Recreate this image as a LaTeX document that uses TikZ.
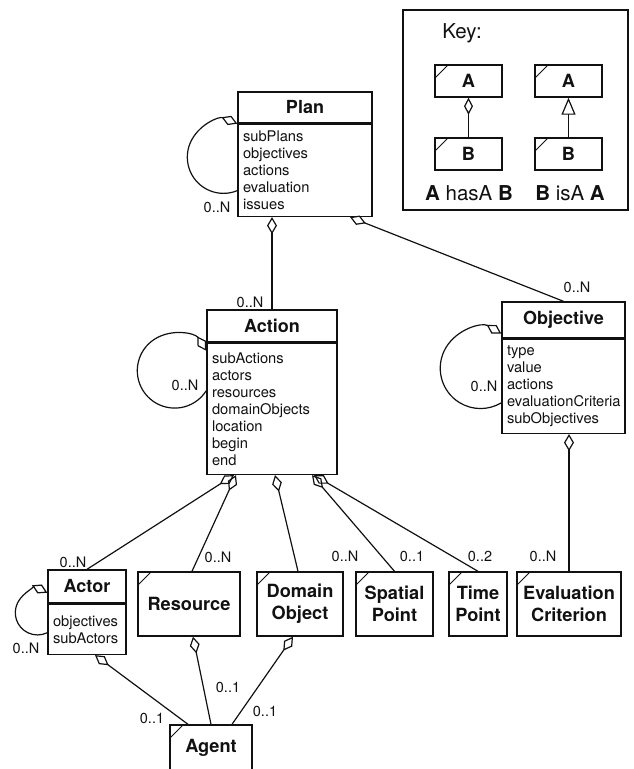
\documentclass[tikz,border=0pt]{standalone}
\usepackage{fontspec}
\setmainfont{TeX Gyre Heros}
\usepackage{xcolor}
\usetikzlibrary{arrows.meta,positioning}
\definecolor{tinta}{HTML}{111111}

\begin{document}
\begin{tikzpicture}[x=1pt, y=-1pt, color=tinta,
    caja/.style={draw, line width=1.4pt, inner sep=0pt},
    cabecera/.style={caja, font=\fontsize{18}{20}\selectfont\bfseries},
    cuerpo/.style={caja, font=\fontsize{14.7}{17}\selectfont, align=left, inner xsep=5pt},
    clase/.style={caja, align=center, font=\fontsize{18.2}{22}\selectfont\bfseries, minimum height=64pt,
        path picture={\draw[line width=1pt] ([yshift=-13pt]path picture bounding box.north west) -- ([xshift=13pt]path picture bounding box.north west);}},
    mult/.style={font=\fontsize{14.5}{16}\selectfont, inner sep=0pt},
    hasa/.style={line width=1.2pt, arrows={Diamond[open,length=17pt,width=10pt]-}},
    isa/.style={line width=1.2pt, arrows={Triangle[open,length=17pt,width=14pt]-}}]
        \useasboundingbox (0,0) rectangle (633,769);
        % Leyenda
        \node[caja, minimum width=225pt, minimum height=200pt] (leyenda) at (515.5,110) {};
        \node[font=\fontsize{20.5}{24}\selectfont] (tituloLeyenda) at (462,33) {Key:};
        \node[clase, minimum width=67pt, minimum height=32pt] (claveA) at (468.5,81) {A};
        \node[clase, minimum width=67pt, minimum height=32pt] (claveB) at (468.5,154) {B};
        \node[clase, minimum width=67pt, minimum height=32pt] (claveA2) at (568.5,81) {A};
        \node[clase, minimum width=67pt, minimum height=32pt] (claveB2) at (568.5,154) {B};
        \draw[hasa, arrows={Diamond[open,length=17pt,width=9pt]-}] (claveA) -- (claveB);
        \draw[isa] (claveA2) -- (claveB2);
        \node[font=\fontsize{20.5}{24}\selectfont] (textoHasA) at (469,193) {\textbf{A} hasA \textbf{B}};
        \node[font=\fontsize{20.5}{24}\selectfont] (textoIsA) at (570,193) {\textbf{B} isA \textbf{A}};
        % Clases con atributos
        \node[cabecera, minimum width=134pt, minimum height=31pt] (plan) at (305,107.5) {Plan};
        \node[cuerpo, below=0pt of plan, text width=124pt, minimum height=92pt] (planAtr)
            {subPlans\\objectives\\actions\\evaluation\\issues};
        \node[cabecera, minimum width=130pt, minimum height=32pt] (accion) at (272,326) {Action};
        \node[cuerpo, below=0pt of accion, text width=120pt, minimum height=131pt] (accionAtr)
            {subActions\\actors\\resources\\domainObjects\\location\\begin\\end};
        \node[cabecera, minimum width=123pt, minimum height=36pt] (objetivo) at (563.5,320) {Objective};
        \node[cuerpo, below=0pt of objetivo, text width=113pt, minimum height=94pt] (objetivoAtr)
            {type\\value\\actions\\evaluationCriteria\\subObjectives};
        \node[cabecera, minimum width=78pt, minimum height=33pt] (actor) at (87,586.5) {Actor};
        \node[cuerpo, below=0pt of actor, text width=68pt, minimum height=50pt] (actorAtr)
            {objectives\\subActors};
        % Clases simples
        \node[clase, minimum width=102pt] (recurso) at (189,604) {Resource};
        \node[clase, minimum width=86pt] (dominio) at (300,604) {Domain\\Object};
        \node[clase, minimum width=77pt] (espacial) at (394.5,604) {Spatial\\Point};
        \node[clase, minimum width=58pt] (tiempo) at (478,604) {Time\\Point};
        \node[clase, minimum width=104pt] (evaluacion) at (569,604) {Evaluation\\Criterion};
        \node[clase, minimum width=82pt, minimum height=46pt] (agente) at (211,748) {Agent};
        % Relaciones hasA
        \draw[hasa] (accion |- planAtr.south) -- (accion);
        \draw[hasa] ([xshift=45pt]planAtr.south) -- (objetivo.north);
        \draw[hasa] (evaluacion.north |- objetivoAtr.south) -- (evaluacion.north);
        \draw[hasa] ([xshift=-38pt]accionAtr.south) -- (actor.north);
        \draw[hasa] ([xshift=-36pt]accionAtr.south) -- ([xshift=3pt]recurso.north);
        \draw[hasa] ([xshift=3pt]accionAtr.south) -- ([xshift=-2pt]dominio.north);
        \draw[hasa] ([xshift=40pt]accionAtr.south) -- (espacial.north);
        \draw[hasa] ([xshift=42pt]accionAtr.south) -- (tiempo.north);
        \draw[hasa] ([xshift=8pt]actorAtr.south) -- ([xshift=-23pt]agente.north);
        \draw[hasa] ([xshift=4pt]recurso.south) -- (agente.north);
        \draw[hasa] ([xshift=-7pt]dominio.south) -- ([xshift=21pt]agente.north);
        % Lazos sobre la misma clase
        \draw[hasa] (plan.south west) arc[start angle=67.6, end angle=292.4, radius=36.2pt];
        \draw[hasa] ([yshift=-8pt]accion.south west) arc[start angle=32.3, end angle=327.7, radius=37.4pt];
        \draw[hasa] ([yshift=5pt]objetivo.south west) arc[start angle=59, end angle=301, radius=40.3pt];
        \draw[hasa] ([yshift=11pt]actor.south west) arc[start angle=64, end angle=296, radius=22.25pt];
        % Multiplicidades
        \node[mult] (mPlan) at (217,207) {0..N};
        \node[mult] (mAccion) at (250,302) {0..N};
        \node[mult] (mAccionLazo) at (185,385) {0..N};
        \node[mult] (mObjetivo) at (577,287) {0..N};
        \node[mult] (mObjetivoLazo) at (484,386) {0..N};
        \node[mult] (mActor) at (73,562) {0..N};
        \node[mult] (mActorLazo) at (26,648) {0..N};
        \node[mult] (mRecurso) at (218,557) {0..N};
        \node[mult] (mDominio) at (345,556) {0..N};
        \node[mult] (mEspacial) at (412,556) {0..1};
        \node[mult] (mTiempo) at (480,556) {0..2};
        \node[mult] (mEvaluacion) at (543,556) {0..N};
        \node[mult] (mAgActor) at (152,718) {0..1};
        \node[mult] (mAgRecurso) at (228,687) {0..1};
        \node[mult] (mAgDominio) at (265,711) {0..1};
    \end{tikzpicture}
\end{document}
